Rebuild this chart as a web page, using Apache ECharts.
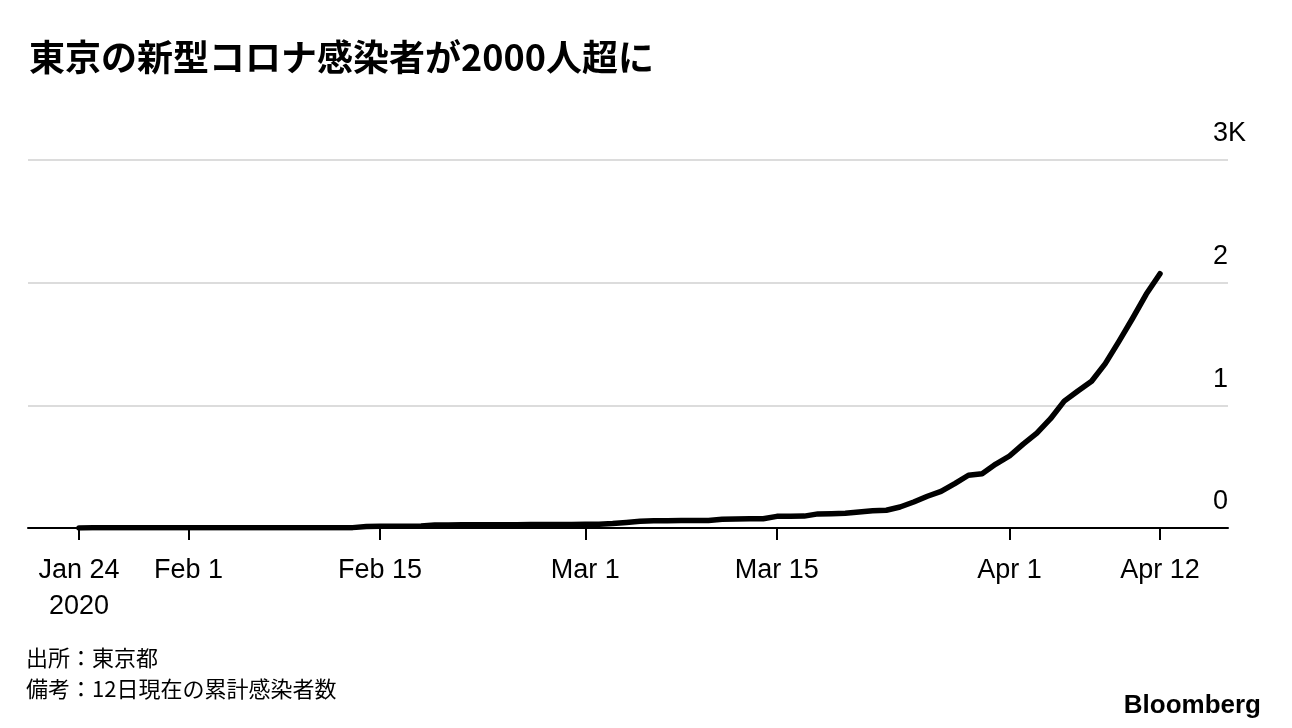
<!DOCTYPE html>
<html>
<head>
<meta charset="utf-8">
<script src="https://cdn.jsdelivr.net/npm/echarts@6/dist/echarts.min.js"></script>
<style>
  html, body { margin: 0; padding: 0; background: #fff; }
  #chart { width: 1292px; height: 728px; }
</style>
</head>
<body>
<div id="chart"></div>
<script>
// daily cumulative cases in Tokyo, day 0 = Jan 24 2020 .. day 79 = Apr 12
const cases = [
  1, 2, 2, 2, 2, 2, 3, 3,                                   // Jan 24-31
  3, 3, 3, 3, 3, 3, 3, 3, 3, 3, 3, 3, 3, 12, 14, 14, 14, 16,  // Feb 1-18
  25, 25, 26, 26, 26, 27, 27, 28, 28, 29, 29,               // Feb 19-29
  30, 31, 36, 45, 55, 60, 60, 61, 61, 62, 72, 74, 75, 76,   // Mar 1-14
  95, 96, 97, 115, 117, 120, 130, 140, 145, 171, 212, 259,  // Mar 15-26
  299, 362, 430, 443, 521,                                  // Mar 27-31
  587, 684, 773, 891, 1034, 1117, 1196, 1340, 1521, 1710, 1907, 2073 // Apr 1-12
];
// tick positions as day offsets from Jan 24
const tickDays = [0, 8, 22, 37, 51, 68, 79];
const tickLabels = ['Jan 24\n2020', 'Feb 1', 'Feb 15', 'Mar 1', 'Mar 15', 'Apr 1', 'Apr 12'];
const yLabels = { 0: '0', 1000: '1', 2000: '2', 3000: '3K' };

const seriesData = cases.map((v, i) => [i, v]);

const chart = echarts.init(document.getElementById('chart'));
chart.setOption({
  animation: false,
  backgroundColor: '#fff',
  title: [
    {
      text: '東京の新型コロナ感染者が2000人超に',
      left: 24, top: 34,
      textStyle: { fontFamily: 'Noto Sans CJK JP', fontSize: 36, fontWeight: 'bold', color: '#000' }
    },
    {
      text: '出所：東京都\n備考：12日現在の累計感染者数',
      left: 21, top: 637,
      textStyle: { fontFamily: 'Noto Sans CJK JP', fontSize: 22, fontWeight: 'normal', color: '#000', lineHeight: 31 }
    },
    {
      text: 'Bloomberg',
      right: 26, top: 688,
      textStyle: { fontFamily: 'Liberation Sans', fontSize: 26, fontWeight: 'bold', color: '#000' }
    }
  ],
  grid: { left: 28, right: 64, top: 160, bottom: 200 },
  xAxis: {
    type: 'value',
    min: -3.73,
    max: 83.97,
    axisLine: { lineStyle: { color: '#000', width: 2 } },
    axisTick: { show: true, length: 12, lineStyle: { color: '#000', width: 2 }, customValues: tickDays },
    splitLine: { show: false },
    axisLabel: {
      customValues: tickDays,
      formatter: v => tickLabels[tickDays.indexOf(Math.round(v))] || '',
      margin: 25,
      fontFamily: 'Liberation Sans',
      fontSize: 27,
      lineHeight: 36,
      color: '#000',
      align: 'center'
    }
  },
  yAxis: {
    type: 'value',
    position: 'right',
    min: 0, max: 3000, interval: 1000,
    axisLine: { show: false },
    axisTick: { show: false },
    splitLine: { lineStyle: { color: '#dcdcdc', width: 2 } },
    axisLabel: {
      // empty second line lifts the label above its gridline
      formatter: v => yLabels[v] + '\n ',
      margin: -15,
      align: 'left',
      verticalAlign: 'middle',
      lineHeight: 52,
      fontFamily: 'Liberation Sans',
      fontSize: 27,
      color: '#000'
    }
  },
  series: [{
    type: 'line',
    data: seriesData,
    showSymbol: false,
    symbol: 'none',
    lineStyle: { color: '#000', width: 5.5, cap: 'round', join: 'round' },
    z: 3
  }]
});
</script>
</body>
</html>
